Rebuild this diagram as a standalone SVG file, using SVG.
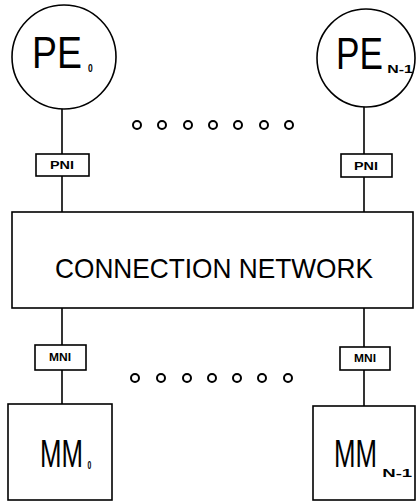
<svg xmlns="http://www.w3.org/2000/svg" width="416" height="504" viewBox="0 0 416 504">
<style>
.s{fill:none;stroke:#000;stroke-width:1.6}
.dot{fill:none;stroke:#000;stroke-width:2}
.big{font-family:"Liberation Sans",Arial,sans-serif;font-weight:normal;fill:#000}
.sub{font-weight:bold;font-size:10px}
.lbl{font-family:"Liberation Sans",Arial,sans-serif;font-weight:bold;font-size:10px;fill:#000;text-anchor:middle}
</style>
<rect width="416" height="504" fill="#fff"/>
<g id="connectors" class="s">
<line x1="62" y1="109" x2="62" y2="154"/>
<line x1="62" y1="176" x2="62" y2="212"/>
<line x1="364" y1="107" x2="364" y2="154"/>
<line x1="364" y1="177" x2="364" y2="212"/>
<line x1="62" y1="308" x2="62" y2="345"/>
<line x1="62" y1="370" x2="62" y2="404"/>
<line x1="364" y1="308" x2="364" y2="347"/>
<line x1="364" y1="370" x2="364" y2="406"/>
</g>
<g id="pe0">
<circle class="s" cx="64" cy="57" r="52"/>
<text class="big" font-size="44" transform="translate(32,68) scale(0.85,1)">PE<tspan class="sub" x="66" y="4">0</tspan></text>
</g>
<g id="peN1">
<circle class="s" cx="366" cy="58" r="49"/>
<text class="big" font-size="44" transform="translate(336,69) scale(0.8,1)">PE<tspan class="sub" x="64" y="4" textLength="32" lengthAdjust="spacingAndGlyphs">N-1</tspan></text>
</g>
<g id="dotsTop" class="dot">
<circle cx="137" cy="125" r="4"/>
<circle cx="162" cy="125" r="4"/>
<circle cx="188" cy="125" r="4"/>
<circle cx="213" cy="125" r="4"/>
<circle cx="238" cy="125" r="4"/>
<circle cx="264" cy="125" r="4"/>
<circle cx="289" cy="125" r="4"/>
</g>
<g id="pni0">
<rect class="s" x="36" y="154" width="53" height="22"/>
<text class="lbl" x="62" y="169" textLength="24" lengthAdjust="spacingAndGlyphs">PNI</text>
</g>
<g id="pniN1">
<rect class="s" x="341" y="154" width="51" height="23"/>
<text class="lbl" x="366" y="170" textLength="24" lengthAdjust="spacingAndGlyphs">PNI</text>
</g>
<g id="network">
<rect class="s" x="12" y="212" width="401" height="96"/>
<text class="big" x="55" y="278" font-size="28" textLength="318" lengthAdjust="spacingAndGlyphs">CONNECTION NETWORK</text>
</g>
<g id="mni0">
<rect class="s" x="35" y="345" width="51" height="25"/>
<text class="lbl" x="60" y="361" textLength="22" lengthAdjust="spacingAndGlyphs">MNI</text>
</g>
<g id="mniN1">
<rect class="s" x="340" y="347" width="50" height="23"/>
<text class="lbl" x="365" y="362" textLength="22" lengthAdjust="spacingAndGlyphs">MNI</text>
</g>
<g id="dotsBottom" class="dot">
<circle cx="135" cy="378" r="4"/>
<circle cx="161" cy="378" r="4"/>
<circle cx="187" cy="378" r="4"/>
<circle cx="212" cy="378" r="4"/>
<circle cx="237" cy="378" r="4"/>
<circle cx="262" cy="378" r="4"/>
<circle cx="288" cy="378" r="4"/>
</g>
<g id="mm0">
<rect class="s" x="8" y="404" width="104" height="96"/>
<text class="big" font-size="38" transform="translate(40,467) scale(0.68,1)">MM<tspan class="sub" x="70" y="2">0</tspan></text>
</g>
<g id="mmN1">
<rect class="s" x="313" y="406" width="102" height="94"/>
<text class="big" font-size="38" transform="translate(334,467) scale(0.68,1)">MM<tspan class="sub" x="71" y="10" textLength="44" lengthAdjust="spacingAndGlyphs">N-1</tspan></text>
</g>
</svg>
